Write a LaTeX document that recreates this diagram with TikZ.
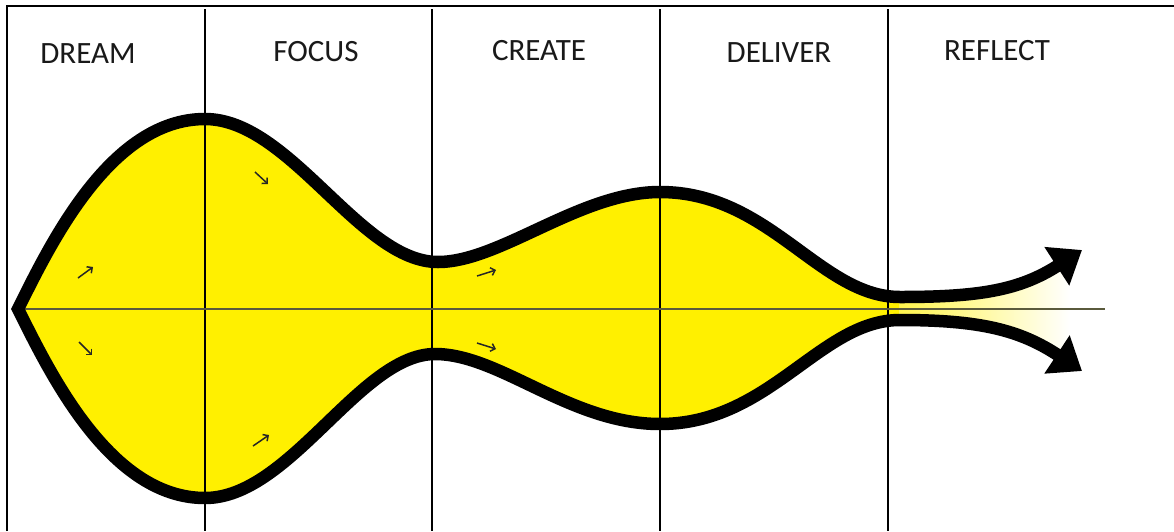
\documentclass[tikz,border=0pt]{standalone}
\usepackage{fontspec}
\setmainfont{Carlito}
\usetikzlibrary{arrows.meta}
\definecolor{fillyel}{RGB}{255,240,0}
\definecolor{axisgray}{RGB}{90,90,60}
\begin{document}
\begin{tikzpicture}[x=1pt,y=-1pt,
  outline/.style={line width=12.5pt,black,line cap=butt,line join=miter},
  bigarrows/.style={outline,{Triangle[length=30pt,width=44pt]}-{Triangle[length=30pt,width=44pt]}},
  phase/.style={line width=2.8pt,black},
  axisline/.style={line width=1.8pt,axisgray},
  small/.style={line width=1.5pt,black!85,-{Straight Barb[length=4pt,width=8pt]}},
  lbl/.style={font=\fontsize{31}{36}\selectfont,text=black!90,inner sep=0pt}]
\useasboundingbox (0,0) rectangle (1174,531);
\fill[white] (0,0) rectangle (1174,531);
% yellow body
\fill[fillyel] (18,309) .. controls (50,245) and (110,119) .. (205,119)
  .. controls (290,119) and (360,262) .. (438,262)
  .. controls (500,262) and (580,192) .. (660,192)
  .. controls (770,192) and (820,297) .. (900,297)
  -- (900,320)
  .. controls (820,320) and (770,424) .. (660,424)
  .. controls (570,424) and (500,354) .. (435,354)
  .. controls (360,354) and (290,498) .. (205,498)
  .. controls (110,498) and (50,373) .. (18,309) -- cycle;
% fading tail
\shade[left color=fillyel!70,right color=white] (899,297)
  .. controls (980,297) and (1020,290) .. (1070,258) -- (1070,363)
  .. controls (1020,330) and (980,320) .. (899,320) -- cycle;
% frame
\draw[line width=2pt] (7,531) -- (7,6) -- (1174,6);
% phase separators
\foreach \x/\n in {205/a,432/b,660/c,888/d}{
  \coordinate (top\n) at (\x,9);
  \coordinate (bot\n) at (\x,531);
  \draw[phase] (top\n) -- (bot\n);
}
% axis
\coordinate (axl) at (15,309);
\coordinate (axr) at (1105,309);
\draw[axisline] (axl) -- (axr);
% outline (lower arrow -> tip -> upper arrow)
\draw[bigarrows] (1082,371) .. controls (1020,330) and (980,320) .. (900,320)
  .. controls (820,320) and (770,424) .. (660,424)
  .. controls (570,424) and (500,354) .. (435,354)
  .. controls (360,354) and (290,498) .. (205,498)
  .. controls (110,498) and (50,373) .. (18,309)
  .. controls (50,245) and (110,119) .. (205,119)
  .. controls (290,119) and (360,262) .. (438,262)
  .. controls (500,262) and (580,192) .. (660,192)
  .. controls (770,192) and (820,297) .. (900,297)
  .. controls (980,297) and (1020,290) .. (1082,250);
% small direction arrows
\coordinate (s1a) at (78,278); \coordinate (s1b) at (93,267);
\coordinate (s2a) at (79,342); \coordinate (s2b) at (92,355);
\coordinate (s3a) at (255,172); \coordinate (s3b) at (268,184);
\coordinate (s4a) at (253,446); \coordinate (s4b) at (269,435);
\coordinate (s5a) at (477,276); \coordinate (s5b) at (496,270);
\coordinate (s6a) at (477,343); \coordinate (s6b) at (496,349);
\draw[small] (s1a) -- (s1b);
\draw[small] (s2a) -- (s2b);
\draw[small] (s3a) -- (s3b);
\draw[small] (s4a) -- (s4b);
\draw[small] (s5a) -- (s5b);
\draw[small] (s6a) -- (s6b);
% labels
\node[lbl] (dream) at (88,54) {DREAM};
\node[lbl] (focus) at (316,52) {FOCUS};
\node[lbl] (create) at (539,51) {CREATE};
\node[lbl] (deliver) at (779,53) {DELIVER};
\node[lbl] (reflect) at (997,51) {REFLECT};
\end{tikzpicture}
\end{document}
